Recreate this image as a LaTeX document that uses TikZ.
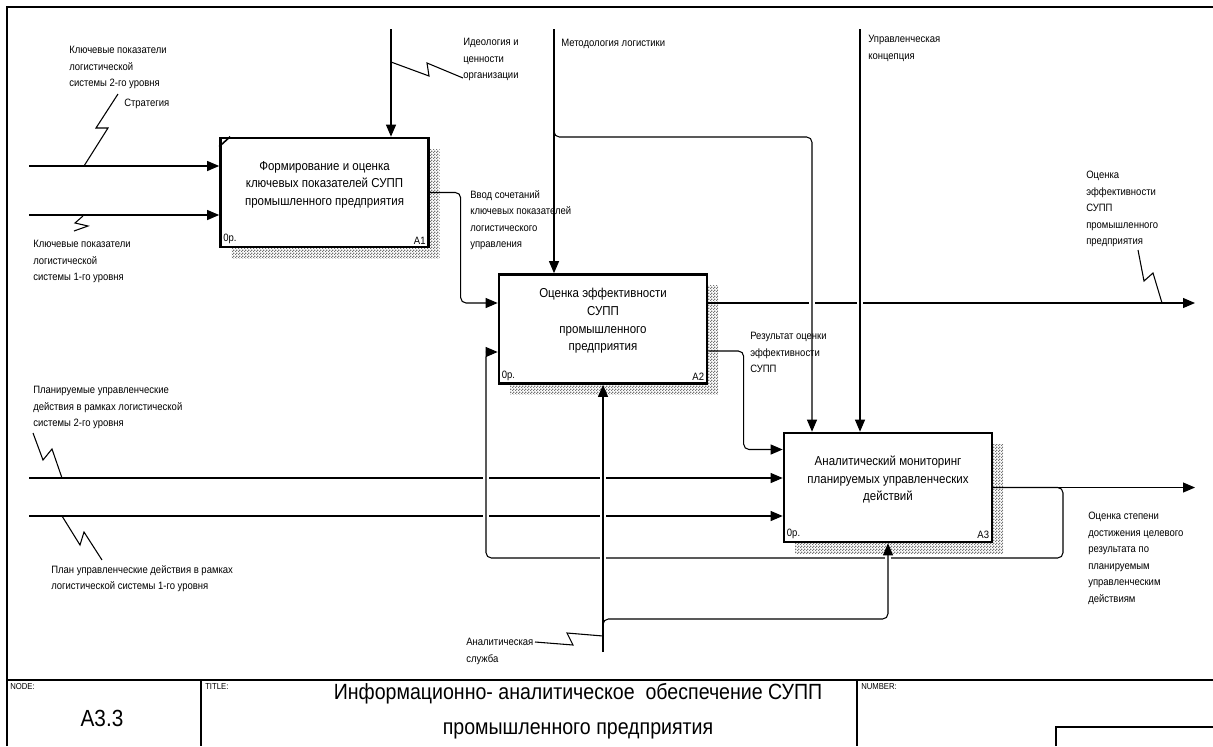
\documentclass[tikz,border=0pt]{standalone}
\usepackage{fontspec}
\setmainfont{Liberation Sans}[FakeStretch=0.89]
\usetikzlibrary{arrows.meta,patterns,shadows,calc}

% fine checker for the box shadows
\pgfdeclarepatternformonly{finecheck}{\pgfpointorigin}{\pgfpoint{2pt}{2pt}}{\pgfpoint{2pt}{2pt}}{%
    \pgfpathrectangle{\pgfpointorigin}{\pgfpoint{1pt}{1pt}}%
    \pgfpathrectangle{\pgfpoint{1pt}{1pt}}{\pgfpoint{1pt}{1pt}}%
    \pgfusepath{fill}}

\tikzset{
    box/.style={draw, line width=2pt, fill=white, inner sep=0pt,
        minimum width=156pt, minimum height=81.75pt,
        general shadow={shadow xshift=8.25pt, shadow yshift=-8.25pt,
            pattern=finecheck, pattern color=black!55}},
    boxtext/.style={align=center, yshift=6pt, font=\fontsize{9.7}{13.2}\selectfont},
    corner/.style={inner sep=3pt, font=\fontsize{8}{9}\selectfont},
    lbl/.style={anchor=north west, align=left, inner sep=0pt, font=\fontsize{8}{12.4}\selectfont},
    small/.style={anchor=north west, inner sep=0pt, font=\fontsize{6.5}{7}\selectfont},
    wire/.style={line width=0.8pt},
    arr/.style={line width=0.8pt, -{Triangle[length=9pt,width=7.5pt]}},
    frame/.style={line width=1pt}
}

\begin{document}
\begin{tikzpicture}[x=0.75pt, y=-0.75pt]
    \useasboundingbox (0,0) rectangle (1213,746);

    % Frame and title block
    \draw[frame] (7,746) -- (7,7) -- (1213,7);
    \draw[frame] (7,680) -- (1213,680);
    \draw[frame] (201,680) -- (201,746);
    \draw[frame] (857,680) -- (857,746);
    \draw[frame] (1056,746) -- (1056,727) -- (1213,727);
    \node[small] (nodelbl) at (10,683) {NODE:};
    \node[small] (titlelbl) at (205,683) {TITLE:};
    \node[small] (numlbl) at (861,683) {NUMBER:};
    \node[font=\fontsize{17.5}{20}\selectfont] (nodenum) at (102,718) {A3.3};
    \node[align=center, font=\fontsize{16.5}{26.2}\selectfont] (title) at (578,711.5)
        {Информационно- аналитическое\ \ обеспечение СУПП\\промышленного предприятия};

    % Define coordinates
    \coordinate (in11) at (29,166);
    \coordinate (in12) at (29,215);
    \coordinate (in31) at (29,478);
    \coordinate (in32) at (29,516);
    \coordinate (c11) at (391,29);
    \coordinate (c21) at (554,29);
    \coordinate (c31) at (860,29);
    \coordinate (j21) at (554,120);
    \coordinate (k21) at (812,137);
    \coordinate (m21) at (603,652);
    \coordinate (j22) at (603,632);
    \coordinate (k22) at (888,619);
    \coordinate (fb1) at (1063,558);
    \coordinate (fb2) at (486,352);
    \coordinate (out21) at (1195,303);
    \coordinate (out31) at (1195,487.5);

    % Activity boxes
    \node[box,
        label={[boxtext]center:{Формирование и оценка\\ключевых показателей СУПП\\промышленного предприятия}},
        label={[corner, anchor=south west]south west:0р.},
        label={[corner, anchor=south east]south east:A1}] (A1) at (324.5,192.5) {};
    \node[box,
        label={[boxtext]center:{Оценка эффективности\\СУПП\\промышленного\\предприятия}},
        label={[corner, anchor=south west]south west:0р.},
        label={[corner, anchor=south east]south east:A2}] (A2) at (603,329) {};
    \node[box,
        label={[boxtext]center:{Аналитический мониторинг\\планируемых управленческих\\действий}},
        label={[corner, anchor=south west]south west:0р.},
        label={[corner, anchor=south east]south east:A3}] (A3) at (888,487.5) {};
    \draw[line width=1.2pt] ($(A1.north west)+(0,10)$) -- ($(A1.north west)+(11,0)$);

    % Arrows of A1
    \draw[arr] (in11) -- (in11 -| A1.west);
    \draw[arr] (in12) -- (in12 -| A1.west);
    \draw[arr] (c11) -- (c11 |- A1.north);
    \draw[arr, rounded corners=4pt] (A1.east) -| ($(A2.west)+(-37,-26)$) -- ($(A2.west)+(0,-26)$);

    % Arrows of A2 and A3
    \draw[arr] (c21) -- (c21 |- A2.north);
    \draw[arr] ($(A2.east)+(0,-26)$) -- (out21);
    \draw[arr, rounded corners=4pt] ($(A2.east)+(0,22)$) -| ($(A3.west)+(-39,-38)$) -- ($(A3.west)+(0,-38)$);
    \draw[arr] (in31) -- (in31 -| A3.west);
    \draw[arr] (in32) -- (in32 -| A3.west);
    \draw[arr] (A3.east) -- (out31);

    % Gaps where lines cross
    \foreach \x/\y in {486/478, 486/516, 603/478, 603/516, 812/303, 860/303}
        \fill[white] (\x-3,\y-2.5) rectangle (\x+3,\y+2.5);
    \draw[arr, rounded corners=4pt] (A3.east) -| (fb1) -| (fb2) -- (fb2 -| A2.west);
    \foreach \x/\y in {603/558, 888/558}
        \fill[white] (\x-3,\y-2.5) rectangle (\x+3,\y+2.5);

    \draw[arr] (m21) -- (m21 |- A2.south);
    \draw[arr, rounded corners=4pt] (j22) |- (k22) -- (k22 |- A3.south);
    \draw[arr, rounded corners=4pt] (j21) |- (k21) -- (k21 |- A3.north);
    \draw[arr] (c31) -- (c31 |- A3.north);

    % Arrow labels
    \node[lbl] (l-kp2) at (69,46) {Ключевые показатели\\логистической\\системы 2-го уровня};
    \node[lbl] (l-strat) at (124,99) {Стратегия};
    \node[lbl] (l-kp1) at (33,240) {Ключевые показатели\\логистической\\системы 1-го уровня};
    \node[lbl] (l-ideo) at (463,38) {Идеология и\\ценности\\организации};
    \node[lbl] (l-meth) at (561,39) {Методология логистики};
    \node[lbl] (l-conc) at (868,35) {Управленческая\\концепция};
    \node[lbl] (l-input) at (470,190) {Ввод сочетаний\\ключевых показателей\\логистического\\управления};
    \node[lbl] (l-eff) at (1086,171) {Оценка\\эффективности\\СУПП\\промышленного\\предприятия};
    \node[lbl] (l-res) at (750,332) {Результат оценки\\эффективности\\СУПП};
    \node[lbl] (l-plan2) at (33,386) {Планируемые управленческие\\действия в рамках логистической\\системы 2-го уровня};
    \node[lbl] (l-plan1) at (51,565) {План управленческие действия в рамках\\логистической системы 1-го уровня};
    \node[lbl] (l-goal) at (1088,512) {Оценка степени\\достижения целевого\\результата по\\планируемым\\управленческим\\действиям};
    \node[lbl] (l-serv) at (466,638) {Аналитическая\\служба};

    % Squiggles
    \draw[wire] (84,166) -- (108,128) -- (96,128) -- (118,94);
    \draw[wire] (83,216) -- (75,223) -- (88,226) -- (74,231);
    \draw[wire] (391,62) -- (429,76) -- (427,63) -- (463,78);
    \draw[wire] (1162,303) -- (1153,273) -- (1144,281) -- (1138,250);
    \draw[wire] (62,478) -- (52,449) -- (43,460) -- (33,433);
    \draw[wire] (62,516) -- (80,545) -- (84,532) -- (102,560);
    \draw[wire] (535,642) -- (573,645) -- (567,633) -- (603,636);
\end{tikzpicture}
\end{document}
